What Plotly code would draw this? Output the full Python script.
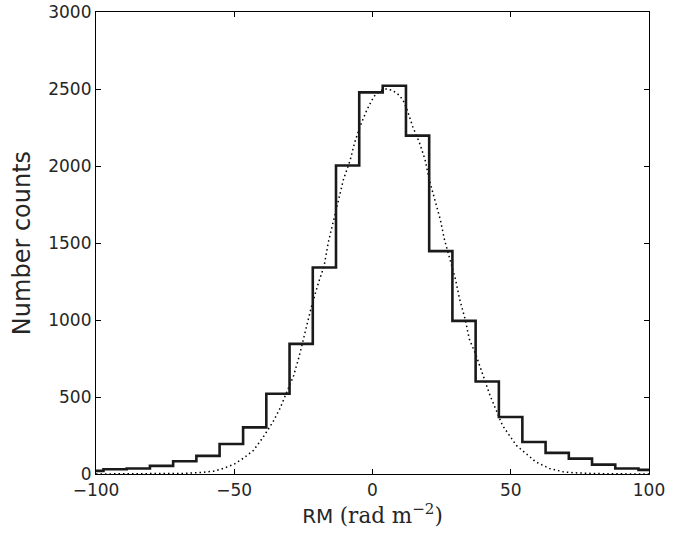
import plotly.graph_objects as go

# Histogram bin edges (rad m^-2) and counts
bin_edges = [-105.7, -97.3, -88.9, -80.5, -72.1, -63.7, -55.3, -46.8, -38.4, -30.0,
             -21.6, -13.2, -4.8, 3.7, 12.1, 20.5, 28.9, 37.3, 45.7, 54.2,
             62.6, 71.0, 79.4, 87.8, 96.2, 104.6]
counts = [20, 31, 36, 53, 83, 118, 195, 303, 521, 845,
          1341, 2003, 2478, 2521, 2197, 1447, 994, 601, 370, 208,
          137, 100, 61, 36, 27]

# Dotted fitted curve
fit_x = [-100, -90, -80, -74, -68, -62, -57.5, -54, -50, -46.5, -43, -39.5, -36, -33.5,
         -31, -28.5, -26.5, -24.5, -22, -19.5, -17.5, -16, -14, -12.5, -10.5, -8,
         -6.5, -4.5, -2, 0.5, 3, 5, 7, 9, 11, 12.5, 14.5, 17, 19, 20.5, 22.5, 24.5,
         26, 28, 30, 31.5, 33.5, 35, 37.5, 40, 42.5, 45, 47, 49.5, 52, 55.5, 59,
         64, 69, 73, 80, 90, 100]
fit_y = [0, 0, 1, 2, 4, 10, 18, 36, 64, 105, 154, 241, 338, 424,
         532, 640, 765, 920, 1093, 1244, 1351, 1503, 1654, 1783, 1913, 2042,
         2150, 2258, 2366, 2452, 2490, 2500, 2492, 2470, 2430, 2366, 2258, 2150, 2042, 1913, 1783, 1654,
         1524, 1395, 1265, 1136, 1006, 877, 769, 640, 510, 403, 316, 251, 186, 133, 79,
         36, 14, 8, 3, 1, 0]

step_x = bin_edges
step_y = counts + [counts[-1]]

ink = "#262626"

fig = go.Figure()
fig.add_trace(go.Scatter(x=fit_x, y=fit_y, mode="lines",
                         line=dict(color="black", width=1.5, dash="1.5px,3px"),
                         hoverinfo="skip", showlegend=False))
fig.add_trace(go.Scatter(x=step_x, y=step_y, mode="lines", line_shape="hv",
                         line=dict(color="#1a1a1a", width=2.6),
                         showlegend=False))

axis_common = dict(showgrid=False, zeroline=False, showline=True, linecolor="black",
                   linewidth=1.2, mirror="ticks", ticks="inside", ticklen=5,
                   tickwidth=1, tickcolor="black", automargin=False,
                   ticklabeloverflow="allow",
                   tickfont=dict(family="DejaVu Sans", size=17, color=ink))

fig.update_xaxes(range=[-100, 100], tickvals=[-100, -50, 0, 50, 100],
                 title=dict(text="RM <span style=\"font-family:'DejaVu Serif'; font-size:21.5px\">(rad m<sup>−2</sup>)</span>",
                            font=dict(family="DejaVu Sans", size=20, color=ink), standoff=10),
                 **axis_common)
fig.update_yaxes(range=[0, 3000], tickvals=[0, 500, 1000, 1500, 2000, 2500, 3000],
                 title=dict(text="Number counts", font=dict(family="DejaVu Sans", size=24, color=ink),
                            standoff=10),
                 **axis_common)

fig.update_layout(width=694, height=538, plot_bgcolor="white", paper_bgcolor="white",
                  margin=dict(l=96, r=45, t=12, b=64))

# Remove the page's default 8px body margin so the figure sits at the window's corner.
fig.write_html("out.html", config={"displayModeBar": False},
               post_script="document.body.style.margin='0px';")
